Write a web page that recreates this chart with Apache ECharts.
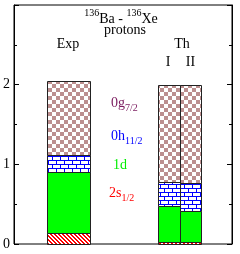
<!DOCTYPE html>
<html><head><meta charset="utf-8">
<script src="https://cdn.jsdelivr.net/npm/echarts@6/dist/echarts.min.js"></script>
<style>html,body{margin:0;padding:0;background:#fff}#c{width:240px;height:254px}</style>
</head><body><div id="c"></div><script>
// ---- data ----
const columns = ['Exp', 'I', 'II'];
const s12 = [0.135, 0.02, 0.02];   // 2s1/2
const d1  = [0.765, 0.46, 0.395];  // 1d
const h11 = [0.22, 0.30, 0.355];   // 0h11/2
const g7  = [0.93, 1.22, 1.23];    // 0g7/2
const yTickLabels = ['0', '1', '2'];
const orbitalNames = ['2s1/2', '1d', '0h11/2', '0g7/2'];
const layers = [s12, d1, h11, g7];

// ---- layout (not data) ----
const colX = [2.5, 7.1, 8.1];
const colW = [2, 1, 1];
const FONT = 'Liberation Serif';

function mk(w, h, draw) {
  const c = document.createElement('canvas'); c.width = w; c.height = h;
  const g = c.getContext('2d'); g.fillStyle = '#fff'; g.fillRect(0, 0, w, h); draw(g); return c;
}
const checker = mk(8, 8, g => { g.fillStyle = '#bc8f8f'; g.fillRect(0, 0, 4, 4); g.fillRect(4, 4, 4, 4); });
const brick = mk(8, 8, g => { g.fillStyle = '#0000ff'; g.fillRect(0, 0, 8, 1); g.fillRect(0, 4, 8, 1); g.fillRect(0, 0, 1, 4); g.fillRect(4, 4, 1, 4); });
const stripe = mk(4, 4, g => { g.fillStyle = '#ff0000';
  for (let y = 0; y < 4; y++) for (let x = 0; x < 4; x++) if ((((x - y) % 4) + 4) % 4 < 2) g.fillRect(x, y, 1, 1); });
const fills = [
  { image: stripe, repeat: 'repeat' },
  '#00ff00',
  { image: brick, repeat: 'repeat' },
  { image: checker, repeat: 'repeat' }
];

const series = layers.map((vals, li) => ({
  type: 'custom',
  name: orbitalNames[li],
  data: columns.map((c, i) => {
    let base = 0; for (let k = 0; k < li; k++) base += layers[k][i];
    return [colX[i], base, base + vals[i], colW[i]];
  }),
  renderItem(params, api) {
    const x = api.value(0), y0 = api.value(1), y1 = api.value(2), w = api.value(3);
    const p0 = api.coord([x - w / 2, y1]);
    const p1 = api.coord([x + w / 2, y0]);
    const L = Math.round(p0[0]) + 0.5, T = Math.round(p0[1]) + 0.5;
    const R = Math.round(p1[0]) + 0.5, B = Math.round(p1[1]) + 0.5;
    return { type: 'rect', shape: { x: L, y: T, width: R - L, height: B - T },
      style: { fill: fills[li], stroke: '#222', lineWidth: 1 } };
  }
}));

function txt(text, x, y, rich, align) {
  return { type: 'text', x: x, y: y, style: { text: text, rich: rich, align: align || 'left', verticalAlign: 'top', font: '14px ' + FONT, fill: '#000' } };
}
const subRich = (col) => ({
  m: { fontSize: 14, fontFamily: FONT, lineHeight: 20, fill: col },
  s: { fontSize: 10, fontFamily: FONT, lineHeight: 10, verticalAlign: 'bottom', fill: col }
});
const supRich = {
  m: { fontSize: 14, fontFamily: FONT, lineHeight: 22, fill: '#000' },
  u: { fontSize: 10, fontFamily: FONT, lineHeight: 8, verticalAlign: 'top', fill: '#000' }
};
const plain = { m: { fontSize: 14, fontFamily: FONT, lineHeight: 16, fill: '#000' } };

const chart = echarts.init(document.getElementById('c'), null, { renderer: 'canvas' });
chart.setOption({
  animation: false,
  grid: { left: 13, right: 8, top: 5, bottom: 10, show: true, borderColor: '#000', borderWidth: 1 },
  xAxis: { type: 'value', min: 0, max: 10, show: false },
  yAxis: [
    { type: 'value', min: 0, max: 3, interval: 1, position: 'left',
      axisLine: { show: true, lineStyle: { color: '#000' } },
      axisTick: { show: true, inside: true, length: 5, lineStyle: { color: '#000' } },
      minorTick: { show: true, splitNumber: 2, length: 3, lineStyle: { color: '#000' } },
      splitLine: { show: false },
      axisLabel: { margin: 4, fontFamily: FONT, fontSize: 14, color: '#000',
        formatter: v => (v < yTickLabels.length ? yTickLabels[v] : '') } },
    { type: 'value', min: 0, max: 3, interval: 1, position: 'right',
      axisLine: { show: true, lineStyle: { color: '#000' } },
      axisTick: { show: true, inside: true, length: 5, lineStyle: { color: '#000' } },
      minorTick: { show: true, splitNumber: 2, length: 3, lineStyle: { color: '#000' } },
      splitLine: { show: false }, axisLabel: { show: false } }
  ],
  series: series,
  graphic: [
    txt('{u|136}{m|Ba - }{u|136}{m|Xe}', 121, 8, supRich, 'center'),
    txt('{m|protons}', 125, 22, plain, 'center'),
    txt('{m|Exp}', 68, 36, plain, 'center'),
    txt('{m|Th}', 182, 36, plain, 'center'),
    txt('{m|I}', 168, 54, plain, 'center'),
    txt('{m|II}', 190.5, 54, plain, 'center'),
    txt('{m|0g}{s|7/2}', 111, 93, subRich('#7a1a5e')),
    txt('{m|0h}{s|11/2}', 111, 126, subRich('#0000ff')),
    txt('{m|1d}', 113, 155, subRich('#00ee00')),
    txt('{m|2s}{s|1/2}', 109, 183, subRich('#ff0000'))
  ]
});
</script></body></html>
